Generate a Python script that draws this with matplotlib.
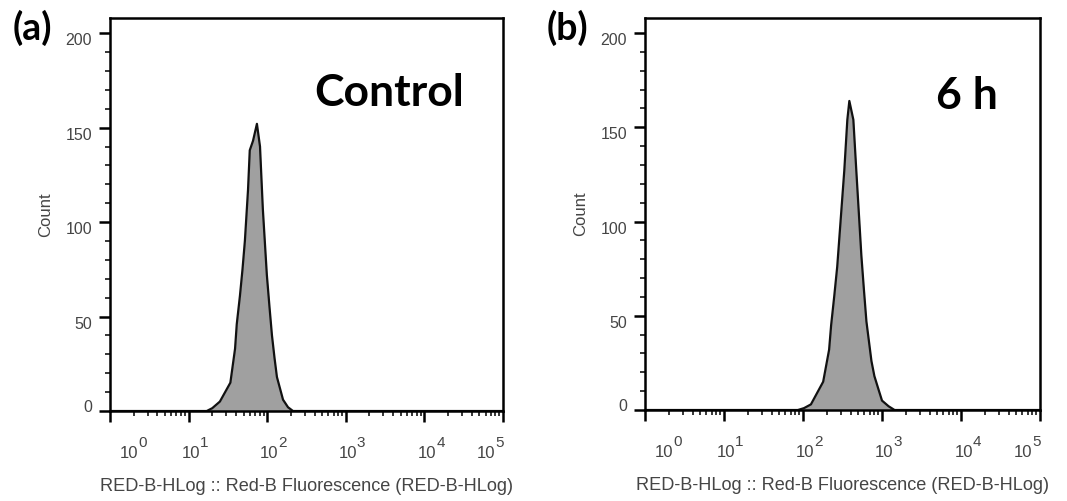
import numpy as np
import matplotlib.pyplot as plt
from matplotlib.ticker import LogLocator, MultipleLocator, NullFormatter, FixedLocator
from matplotlib.transforms import ScaledTranslation

plt.rcParams.update({
    'font.family': ['Liberation Sans', 'DejaVu Sans'],
    'axes.linewidth': 1.8,
})

GREY = '#454545'

# fluorescence (HLog channel) vs count
ctrl_x = [1, 17, 20, 25, 34, 39, 41, 45, 48.5, 52, 57, 60, 66, 74, 81, 88, 99,
          107, 115, 124, 133, 159, 184, 213, 1e5]
ctrl_y = [0, 0, 1.5, 5, 15, 33, 46, 61, 75, 90, 117, 138, 143, 152, 140, 107, 72,
          55, 40, 28, 18, 6, 2, 0, 0]

h6_x = [1, 86, 103, 126, 180, 214, 227, 248, 271, 288, 333, 364, 386, 434, 473,
        548, 590, 635, 735, 801, 902, 1000, 1211, 1443, 1e5]
h6_y = [0, 0, 1, 3, 15, 32, 45, 60, 76, 91, 127, 154, 164, 154, 127,
        82, 64, 47, 26, 18, 11, 5, 2, 0, 0]

decades = [0, 1, 2, 3, 4, 5]
yticks = [0, 50, 100, 150, 200]
xlabel = 'RED-B-HLog :: Red-B Fluorescence (RED-B-HLog)'

fig = plt.figure(figsize=(10.67, 5.01), dpi=100)


def px(dx, dy):
    return ScaledTranslation(dx / 100, dy / 100, fig.dpi_scale_trans)


def draw_panel(rect, x, y, tag, tag_xy, note, note_xy):
    ax = fig.add_axes(rect)
    ax.fill_between(x, y, 0, color='#a0a0a0', lw=0)
    ax.plot(x, y, color='#111111', lw=1.6, solid_joinstyle='round')

    ax.set_xscale('log')
    ax.set_xlim(1, 1e5)
    ax.set_ylim(0, 208)

    ax.xaxis.set_major_locator(FixedLocator([10.0 ** d for d in decades]))
    ax.xaxis.set_minor_locator(LogLocator(base=10, subs=range(2, 10)))
    ax.xaxis.set_minor_formatter(NullFormatter())
    ax.set_xticklabels([])
    ax.yaxis.set_major_locator(FixedLocator(yticks))
    ax.yaxis.set_minor_locator(MultipleLocator(10))

    ax.tick_params(which='major', direction='out', length=8, width=1.8,
                   labelsize=11.5, labelcolor=GREY, color='black')
    ax.tick_params(which='minor', direction='out', length=3.5, width=1.1)
    ax.tick_params(axis='y', which='major', pad=5)

    # decade labels drawn as "10" plus a large exponent, FlowJo style
    for d, dx in zip(decades, [19, 2, 2, 2, 3, -17]):
        ax.annotate('10', xy=(10.0 ** d, 0), xycoords=('data', 'axes fraction'),
                    xytext=(dx, -47), textcoords='offset pixels',
                    ha='center', va='baseline', fontsize=12, color=GREY)
        ax.annotate(str(d), xy=(10.0 ** d, 0), xycoords=('data', 'axes fraction'),
                    xytext=(dx + 9, -36), textcoords='offset pixels',
                    ha='left', va='baseline', fontsize=11, color=GREY)

    for lab, dy in zip(ax.get_yticklabels(), [5, -6, -6, -6, -6]):
        lab.set_transform(lab.get_transform() + px(0, dy))

    ax.set_xlabel(xlabel, fontsize=13.1, color=GREY, labelpad=37)
    ax.set_ylabel('Count', fontsize=12, color=GREY, labelpad=9)

    ax.text(note_xy[0], note_xy[1], note, transform=ax.transAxes,
            family='Lato', weight='bold', fontsize=32, ha='center', va='center')
    fig.text(tag_xy[0], tag_xy[1], tag, family='Lato', weight='bold',
             fontsize=27, ha='center', va='center')
    return ax


draw_panel([0.1031, 0.1796, 0.3683, 0.7844], ctrl_x, ctrl_y,
           '(a)', (0.030, 0.944), 'Control', (0.71, 0.81))
draw_panel([0.6045, 0.1816, 0.3702, 0.7824], h6_x, h6_y,
           '(b)', (0.532, 0.944), '6 h', (0.815, 0.80))

fig.savefig('out.png', dpi=100)
